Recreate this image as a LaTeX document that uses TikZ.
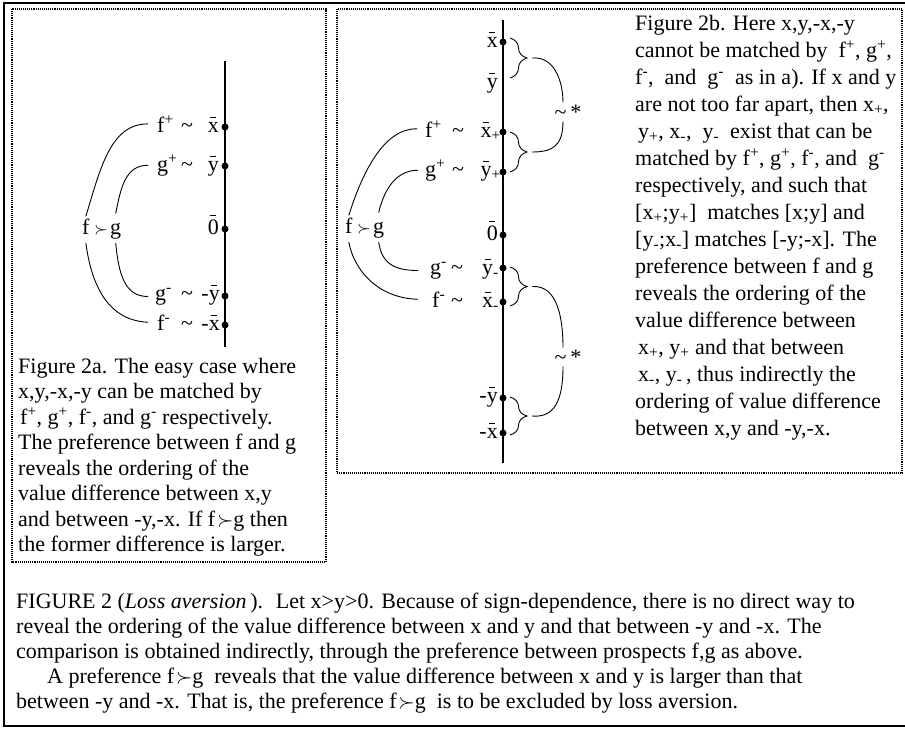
\documentclass[tikz,border=0pt]{standalone}
\usepackage{fontspec}
\setmainfont{Liberation Serif}
\usetikzlibrary{decorations.pathreplacing}
\newcommand{\sfx}{\textsubscript{+}}
\newcommand{\sfm}{\textsubscript{-}}
\newcommand{\tld}{\textasciitilde}
\newcommand{\ob}[2][0.62em]{\ooalign{#2\cr\hidewidth\raisebox{#1}{\rule{0.26em}{0.07em}}\hidewidth\cr}}
\begin{document}
\begin{tikzpicture}[x=1pt,y=-1pt,
  every node/.style={inner sep=0pt, font=\fontsize{22}{26}\selectfont},
  txt/.style={anchor=base west},
  lab/.style={anchor=base east},
  til/.style={anchor=base},
  axisline/.style={line width=2.4pt},
  vdot/.style={circle, fill=black, inner sep=0pt, minimum size=7pt},
  link/.style={line width=0.9pt},
  brc/.style={line width=0.9pt, decorate, decoration={brace, amplitude=17pt}},
  panel/.style={line width=1.1pt, densely dotted},
  outerframe/.style={line width=2pt},
  succsym/.style={anchor=base, font=\fontsize{18}{20}\selectfont},
]
\useasboundingbox (0,0) rectangle (905,729);

% frames
\draw[outerframe] (905,3) -- (4,3) -- (4,726) -- (905,726);
\draw[panel] (12,9) rectangle (326,562);
\draw[panel] (337,9) rectangle (902,473);

% ---------------- Figure 2a ----------------
\coordinate (A1) at (225,61);
\coordinate (A2) at (225,347);
\draw[axisline] (A1) -- (A2);
\node[vdot] (dax) at (225,127) {};
\node[vdot] (day) at (225,166) {};
\node[vdot] (da0) at (225,229) {};
\node[vdot] (damy) at (225,296) {};
\node[vdot] (damx) at (225,325) {};

\node[txt] (fp) at (157,132) {f\textsuperscript{+}};
\node[til] (tp1) at (187,132) {\tld};
\node[lab] (lx) at (219,132) {\ob{x}};
\node[txt] (gp) at (157,171) {g\textsuperscript{+}};
\node[til] (tp2) at (187,171) {\tld};
\node[lab] (ly) at (219,171) {\ob{y}};
\node[lab] (l0) at (219,234) {\ob[0.8em]{0}};
\node[txt] (fA) at (82,234) {f};
\node[succsym] (sA) at (101,234) {$\succ$};
\node[txt] (gA) at (110,234) {g};
\node[txt] (gm) at (155,300) {g\textsuperscript{-}};
\node[til] (tm1) at (187,300) {\tld};
\node[lab] (lmy) at (220,300) {-\ob{y}};
\node[txt] (fm) at (157,330) {f\textsuperscript{-}};
\node[til] (tm2) at (187,330) {\tld};
\node[lab] (lmx) at (220,330) {-\ob{x}};

\draw[link] ([xshift=-9pt]fp.west) .. controls +(-37,0) and +(15,-50) .. ([yshift=2pt]fA.north);
\draw[link] ([xshift=-9pt]gp.west) .. controls +(-23,0) and +(5,-25) .. ([yshift=9pt]gA.north);
\draw[link] ([yshift=-4pt]gA.south) .. controls +(3,32) and +(-23,0) .. ([xshift=-7pt]gm.west);
\draw[link] ([yshift=-9pt]fA.south) .. controls +(5,37) and +(-43,-2) .. ([xshift=-9pt]fm.west);

\node[txt] (ca1) at (18,373) {Figure 2a. The easy case where};
\node[txt] (ca2) at (18,398.5) {x,y,-x,-y can be matched by};
\node[txt] (ca3) at (18,424) {\hspace{2pt}f\textsuperscript{+}, g\textsuperscript{+}, f\textsuperscript{-}, and g\textsuperscript{-} respectively.};
\node[txt] (ca4) at (18,449.5) {The preference between f and g};
\node[txt] (ca5) at (18,475) {reveals the ordering of the};
\node[txt] (ca6) at (18,500.5) {value difference between x,y};
\node[txt] (ca7) at (18,526) {and between -y,-x. If f\hspace{2pt}$\succ$g then};
\node[txt] (ca8) at (18,551.5) {the former difference is larger.};

% ---------------- Figure 2b ----------------
\coordinate (B1) at (503,20);
\coordinate (B2) at (503,463);
\draw[axisline] (B1) -- (B2);
\node[vdot] (dbx) at (503,42) {};
\node[vdot] (dbxp) at (503,132) {};
\node[vdot] (dbyp) at (503,172) {};
\node[vdot] (db0) at (503,235) {};
\node[vdot] (dbym) at (503,268) {};
\node[vdot] (dbxm) at (503,302) {};
\node[vdot] (dbmy) at (503,398) {};
\node[vdot] (dbmx) at (503,433) {};

\node[lab] (bx) at (498,47) {\ob{x}};
\node[lab] (by) at (498,88) {\ob{y}};
\node[lab] (bxp) at (501,137) {\ob{x}\sfx};
\node[lab] (byp) at (501,176) {\ob{y}\sfx};
\node[lab] (b0) at (498,240) {\ob[0.8em]{0}};
\node[lab] (bym) at (499,274) {\ob{y}\sfm};
\node[lab] (bxm) at (499,307) {\ob{x}\sfm};
\node[lab] (bmy) at (498,402) {-\ob{y}};
\node[lab] (bmx) at (498,438) {-\ob{x}};

\node[txt] (fp2) at (425,137) {f\textsuperscript{+}};
\node[til] (tq1) at (458,137) {\tld};
\node[txt] (gp2) at (425,176) {g\textsuperscript{+}};
\node[til] (tq2) at (458,176) {\tld};
\node[txt] (gm2) at (430,274) {g\textsuperscript{-}};
\node[til] (tq3) at (457,274) {\tld};
\node[txt] (fm2) at (432,307) {f\textsuperscript{-}};
\node[til] (tq4) at (457,307) {\tld};

\node[txt] (fB) at (345,233) {f};
\node[succsym] (sB) at (364,233) {$\succ$};
\node[txt] (gB) at (373,233) {g};

\draw[link] ([xshift=-8pt]fp2.west) .. controls +(-32,-1) and +(14,-45) .. ([yshift=2pt]fB.north);
\draw[link] ([xshift=-7pt]gp2.west) .. controls +(-21,0) and +(6,-25) .. ([yshift=9pt]gB.north);
\draw[link] ([yshift=-4pt]gB.south) .. controls +(3,22) and +(-23,0) .. ([xshift=-12pt]gm2.west);
\draw[link] ([yshift=-9pt]fB.south) .. controls +(5,28) and +(-40,-1) .. ([xshift=-14pt]fm2.west);

% braces
\coordinate (c1a) at (510,38);  \coordinate (c1b) at (510,78);
\coordinate (c2a) at (510,132); \coordinate (c2b) at (510,172);
\coordinate (c3a) at (510,267); \coordinate (c3b) at (510,306);
\coordinate (c4a) at (510,397); \coordinate (c4b) at (510,435);
\draw[brc] (c1a) -- (c1b);
\draw[brc] (c2a) -- (c2b);
\draw[brc] (c3a) -- (c3b);
\draw[brc] (c4a) -- (c4b);
\coordinate (t1) at (532,58);
\coordinate (t2) at (532,152);
\coordinate (t3) at (532,286.5);
\coordinate (t4) at (532,416);

\node[inner sep=2pt] (s1) at (568,112) {\tld\,*};
\node[inner sep=2pt] (s2) at (568,357) {\tld\,*};
\draw[link] (t1) .. controls +(22,-2) and +(0,-22) .. ([xshift=-5pt]s1.north);
\draw[link] ([xshift=-5pt]s1.south) .. controls +(0,25) and +(20,0) .. (t2);
\draw[link] (t3) .. controls +(27,-2) and +(0,-25) .. ([xshift=-5pt]s2.north);
\draw[link] ([xshift=-5pt]s2.south) .. controls +(0,35) and +(22,2) .. (t4);

\node[txt] (cb1) at (635,30) {Figure 2b. Here x,y,-x,-y};
\node[txt] (cb2) at (635,57) {cannot be matched by \ f\textsuperscript{+}, g\textsuperscript{+},};
\node[txt] (cb3) at (635,84) {f\textsuperscript{-}, \ and \ g\textsuperscript{-} \ as in a). If x and y};
\node[txt] (cb4) at (635,111) {are not too far apart, then x\sfx,};
\node[txt] (cb5) at (635,138) {\hspace{3pt}y\sfx, x\sfm, \ y\sfm \ \ exist that can be};
\node[txt] (cb6) at (635,165) {matched by f\textsuperscript{+}, g\textsuperscript{+}, f\textsuperscript{-}, and \ g\textsuperscript{-}};
\node[txt] (cb7) at (635,192) {respectively, and such that};
\node[txt] (cb8) at (635,219) {[x\sfx;y\sfx] \ matches [x;y] and};
\node[txt] (cb9) at (635,246) {[y\sfm;x\sfm] matches [-y;-x]. The};
\node[txt] (cb10) at (635,273) {preference between f and g};
\node[txt] (cb11) at (635,300) {reveals the ordering of the};
\node[txt] (cb12) at (635,327) {value difference between};
\node[txt] (cb13) at (635,354) {\hspace{3pt}x\sfx, y\sfx \ and that between};
\node[txt] (cb14) at (635,381) {\hspace{3pt}x\sfm, y\sfm\,, thus indirectly the};
\node[txt] (cb15) at (635,408) {ordering of value difference};
\node[txt] (cb16) at (635,435) {between x,y and -y,-x.};

% ---------------- main caption ----------------
\node[txt] (m1) at (16,608) {FIGURE 2 (\textit{Loss aversion}\,). \ Let x>y>0. Because of sign-dependence, there is no direct way to};
\node[txt] (m2) at (16,633) {reveal the ordering of the value difference between x and y and that between -y and -x. The};
\node[txt] (m3) at (16,658) {comparison is obtained indirectly, through the preference between prospects f,g as above.};
\node[txt] (m4) at (47,683) {A preference f\hspace{2pt}$\succ$g \ reveals that the value difference between x and y is larger than that};
\node[txt] (m5) at (16,708) {between -y and -x. That is, the preference f\hspace{2pt}$\succ$g \ is to be excluded by loss aversion.};
\end{tikzpicture}
\end{document}
